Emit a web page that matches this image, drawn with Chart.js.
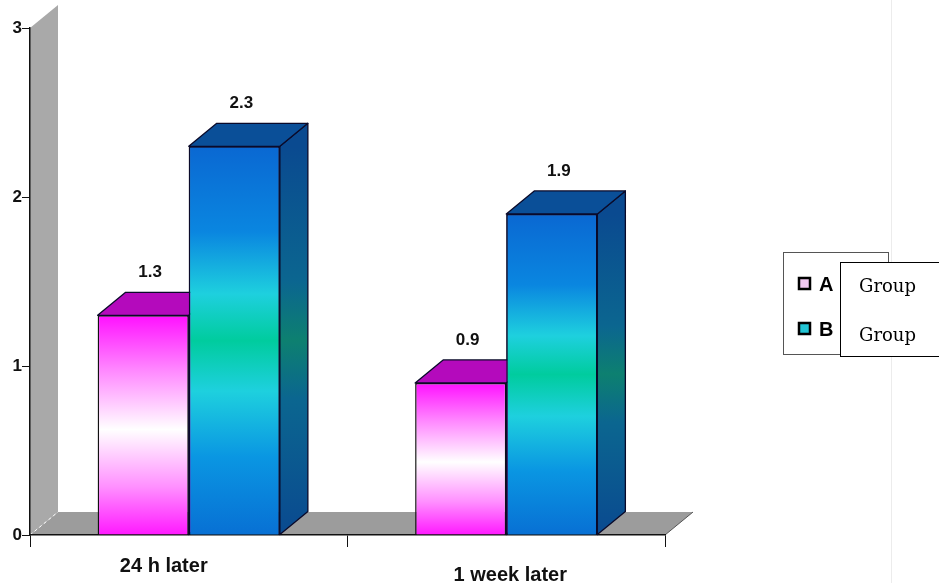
<!DOCTYPE html>
<html>
<head>
<meta charset="utf-8">
<script src="https://cdn.jsdelivr.net/npm/chart.js@4/dist/chart.umd.min.js"></script>
<style>
  html, body { margin: 0; padding: 0; background: #fff; }
  #wrap { width: 939px; height: 583px; position: relative; }
</style>
</head>
<body>
<div id="wrap"><canvas id="c" width="939" height="583"></canvas></div>
<script>
// ===== Data
const categories = ['24 h later', '1 week later'];
const seriesNames = ['A', 'B'];
const groupA = [1.3, 0.9];
const groupB = [2.3, 1.9];
const yTicks = [0, 1, 2, 3];
const legendText = ['Group', 'Group'];

// ===== 3D look
const DX = 28, DY = -23;
const font = 'bold 17px "Liberation Sans", Arial, sans-serif';

function grad(ctx, y0, y1, stops) {
  if (!isFinite(y0) || !isFinite(y1) || y0 === y1) return stops[0][1];
  const g = ctx.createLinearGradient(0, y0, 0, y1);
  stops.forEach(s => g.addColorStop(s[0], s[1]));
  return g;
}

const frontStops = [
  [[0, '#ff10ff'], [0.25, '#ff88ff'], [0.52, '#ffffff'], [0.78, '#ff90ff'], [1, '#ff18ff']],
  [[0, '#0a68d2'], [0.22, '#0a86e0'], [0.38, '#1ed0de'], [0.5, '#00cc9e'], [0.63, '#1ed0de'], [0.8, '#0a96e2'], [1, '#0870d4']]
];
const sideStops = [
  [[0, '#c000c8'], [1, '#c000c8']],
  [[0, '#0a4a90'], [0.35, '#0b6690'], [0.5, '#0d8070'], [0.65, '#0b6690'], [1, '#0a4a90']]
];
const topColors = ['#b40abc', '#0a4f98'];
const legendFill = ['#f2c8f2', '#22c4d4'];

function frontColor(i) {
  return (c) => {
    const chart = c.chart;
    const y = chart.scales && chart.scales.y;
    if (!y || c.type !== 'data') return frontStops[i][0][1];
    const t = y.getPixelForValue(c.raw), b = y.getPixelForValue(0);
    return grad(chart.ctx, t, b, frontStops[i]);
  };
}

const box3d = {
  id: 'box3d',
  beforeDraw(chart) {
    const { ctx, chartArea: a } = chart;
    ctx.save();
    // back wall
    ctx.fillStyle = '#a9a9a9';
    ctx.beginPath();
    ctx.moveTo(a.left, a.bottom);
    ctx.lineTo(a.left, a.top);
    ctx.lineTo(a.left + DX, a.top + DY);
    ctx.lineTo(a.left + DX, a.bottom + DY);
    ctx.closePath();
    ctx.fill();
    // floor
    ctx.fillStyle = '#9c9c9c';
    ctx.beginPath();
    ctx.moveTo(a.left, a.bottom);
    ctx.lineTo(a.right, a.bottom);
    ctx.lineTo(a.right + DX, a.bottom + DY);
    ctx.lineTo(a.left + DX, a.bottom + DY);
    ctx.closePath();
    ctx.fill();
    ctx.strokeStyle = '#555';
    ctx.lineWidth = 1;
    ctx.beginPath();
    ctx.moveTo(a.right, a.bottom);
    ctx.lineTo(a.right + DX, a.bottom + DY);
    ctx.stroke();
    // corner
    ctx.strokeStyle = '#fff';
    ctx.setLineDash([3, 3]);
    ctx.beginPath();
    ctx.moveTo(a.left, a.bottom);
    ctx.lineTo(a.left + DX, a.bottom + DY);
    ctx.stroke();
    ctx.setLineDash([]);
    // faint page line
    ctx.strokeStyle = '#ececec';
    ctx.beginPath();
    ctx.moveTo(891.5, 0);
    ctx.lineTo(891.5, chart.height);
    ctx.stroke();
    ctx.restore();
  },
  // faces drawn left to right so the right bar covers the left bar's top
  afterDatasetsDraw(chart) {
    const { ctx } = chart;
    const n = chart.data.datasets.length;
    for (let i = 0; i < n; i++) {
      chart.getDatasetMeta(i).data.forEach(bar => {
        if (i > 0) bar.draw(ctx);
        const p = bar.getProps(['x', 'y', 'base', 'width'], true);
        const l = p.x - p.width / 2, r = p.x + p.width / 2;
        ctx.save();
        ctx.lineWidth = 1.3;
        ctx.strokeStyle = '#0a0a2a';
        ctx.lineJoin = 'round';
        // side
        ctx.fillStyle = grad(ctx, p.y, p.base, sideStops[i]);
        ctx.beginPath();
        ctx.moveTo(r, p.y);
        ctx.lineTo(r + DX, p.y + DY);
        ctx.lineTo(r + DX, p.base + DY);
        ctx.lineTo(r, p.base);
        ctx.closePath();
        ctx.fill();
        ctx.stroke();
        // top
        ctx.fillStyle = topColors[i];
        ctx.beginPath();
        ctx.moveTo(l, p.y);
        ctx.lineTo(l + DX, p.y + DY);
        ctx.lineTo(r + DX, p.y + DY);
        ctx.lineTo(r, p.y);
        ctx.closePath();
        ctx.fill();
        ctx.stroke();
        ctx.restore();
      });
    }
  },
  afterDraw(chart) {
    const { ctx } = chart;
    ctx.save();
    // value labels
    ctx.font = font;
    ctx.fillStyle = '#111';
    ctx.textAlign = 'center';
    ctx.textBaseline = 'middle';
    chart.data.datasets.forEach((ds, di) => {
      chart.getDatasetMeta(di).data.forEach((bar, k) => {
        ctx.fillText(ds.data[k].toFixed(1), bar.x + 7, bar.y + DY - 20);
      });
    });
    // category labels
    const catPos = [[-25, 566], [4, 575]];
    ctx.font = 'bold 20px "Liberation Sans", Arial, sans-serif';
    categories.forEach((c, k) => {
      const x = chart.scales.x.getPixelForValue(k);
      ctx.fillText(c, x + catPos[k][0], catPos[k][1]);
    });
    // legend
    ctx.fillStyle = '#fff';
    ctx.fillRect(783.5, 252.5, 105, 102);
    ctx.strokeStyle = '#555';
    ctx.lineWidth = 1;
    ctx.strokeRect(783.5, 252.5, 105, 102);
    ctx.textAlign = 'left';
    seriesNames.forEach((n, k) => {
      const y = 284 + k * 45;
      ctx.fillStyle = legendFill[k];
      ctx.fillRect(799, y - 6, 11, 11);
      ctx.strokeStyle = '#000';
      ctx.lineWidth = 2.5;
      ctx.strokeRect(799, y - 6, 11, 11);
      ctx.fillStyle = '#000';
      ctx.font = 'bold 20px "Liberation Sans", Arial, sans-serif';
      ctx.fillText(n, 819, y + 1);
    });
    ctx.fillStyle = '#fff';
    ctx.fillRect(840.5, 262.5, 99, 94);
    ctx.strokeStyle = '#000';
    ctx.lineWidth = 1;
    ctx.strokeRect(840.5, 262.5, 99, 94);
    ctx.fillStyle = '#000';
    ctx.font = '18px "DejaVu Serif", "Liberation Serif", serif';
    legendText.forEach((t, k) => ctx.fillText(t, 859, 287 + k * 49));
    ctx.restore();
  }
};

new Chart(document.getElementById('c'), {
  type: 'bar',
  data: {
    labels: categories,
    datasets: [
      { label: seriesNames[0], data: groupA, backgroundColor: frontColor(0), borderColor: '#111', borderWidth: 1.5 },
      { label: seriesNames[1], data: groupB, backgroundColor: frontColor(1), borderColor: '#0a0a2a', borderWidth: 1.5 }
    ]
  },
  options: {
    responsive: false,
    animation: false,
    layout: { padding: { top: 28, right: 274, bottom: 0, left: 0 } },
    datasets: { bar: { categoryPercentage: 0.574, barPercentage: 1 } },
    plugins: { legend: { display: false }, tooltip: { enabled: false } },
    scales: {
      x: {
        afterFit: s => { s.height = 48; },
        grid: { display: true, drawOnChartArea: false, tickLength: 12, color: '#111', offset: true },
        border: { display: true, color: '#111', width: 1.5 },
        ticks: { color: 'rgba(0,0,0,0)' }
      },
      y: {
        min: 0, max: 3,
        afterFit: s => { s.width = 30; },
        afterBuildTicks: s => { s.ticks = yTicks.map(v => ({ value: v })); },
        grid: { display: true, drawOnChartArea: false, tickLength: 8, color: '#111' },
        border: { display: true, color: '#111', width: 1.5 },
        ticks: { padding: 0, color: '#111', font: { family: '"Liberation Sans", Arial, sans-serif', size: 17, weight: 'bold' } }
      }
    }
  },
  plugins: [box3d]
});
</script>
</body>
</html>
